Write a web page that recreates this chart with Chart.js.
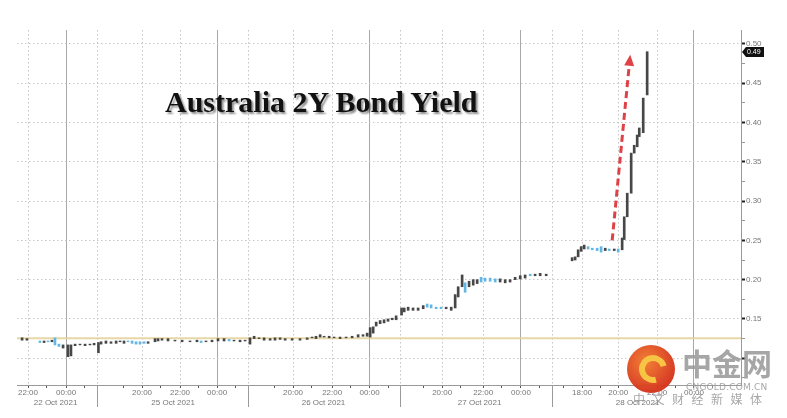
<!DOCTYPE html>
<html>
<head>
<meta charset="utf-8">
<script src="https://cdn.jsdelivr.net/npm/chart.js@4.4.0/dist/chart.umd.min.js"></script>
<style>
  html, body { margin: 0; padding: 0; background: #fff; }
  #wrap { position: relative; width: 787px; height: 418px; overflow: hidden; }
  #title {
    position: absolute; left: 165px; top: 87px;
    font: bold 30px "Liberation Serif", "Times New Roman", serif; line-height: 30px;
    color: #111; white-space: nowrap;
    text-shadow: 2px 2px 2px rgba(0,0,0,0.45);
  }
  .wm { position: absolute; white-space: nowrap; color: rgba(150,150,150,0.85); }
  #logo {
    position: absolute; left: 627px; top: 345px; width: 48px; height: 48px; border-radius: 50%;
    background: radial-gradient(circle at 40% 35%, #f27a2a, #d5321a 70%);
    opacity: 0.95;
  }
  #logo div {
    position: absolute; left: 12px; top: 10px; width: 16px; height: 16px; border-radius: 50%;
    border: 6px solid #f8c13a; border-right-color: transparent; transform: rotate(30deg);
  }
  #wm-cn { left: 682px; top: 344px; font: bold 30px "Noto Sans CJK SC", sans-serif; line-height: 36px; }
  #wm-en { left: 686px; top: 381px; font: 9px "DejaVu Sans", sans-serif; letter-spacing: 0.2px; line-height: 12px; }
  #wm-sub { left: 633px; top: 392px; font: 12px "Noto Sans CJK SC", sans-serif; letter-spacing: 7.5px; line-height: 14px; }
</style>
</head>
<body>
<div id="wrap">
  <canvas id="chart" width="787" height="418"></canvas>
  <div id="title">Australia 2Y Bond Yield</div>
  <div id="logo"><div></div></div>
  <div class="wm" id="wm-cn">中金网</div>
  <div class="wm" id="wm-en">CNGOLD.COM.CN</div>
  <div class="wm" id="wm-sub">中文财经新媒体</div>
</div>
<script>
// x axis is trading hours on a gap-free clock (sessions joined end to end)
const xMin = 0, xMax = 38.5;
const yMin = 0.066, yMax = 0.5176;

const sessionBreaks = [4.26, 12.29, 20.37, 28.46];
const dateTicks = [2.05, 8.3, 16.3, 24.6, 33.0];
const dateLabels = ['22 Oct 2021', '25 Oct 2021', '26 Oct 2021', '27 Oct 2021', '28 Oct 2021'];
const timeTicks = [0.585, 2.61, 6.65, 8.67, 10.64, 14.68, 16.76, 18.75, 22.61, 24.79, 26.8, 30.05, 31.97, 34.04, 36.0];
const timeLabels = ['22:00', '00:00', '20:00', '22:00', '00:00', '20:00', '22:00', '00:00', '20:00', '22:00', '00:00', '18:00', '20:00', '22:00', '00:00'];

const yTicks = [0.10, 0.15, 0.20, 0.25, 0.30, 0.35, 0.40, 0.45, 0.50];
const yTickLabels = ['', '0.15', '0.20', '0.25', '0.30', '0.35', '0.40', '0.45', '0.50'];

// bars: time, low, high, down (1 = blue bar)
const barTime = [
  0.27, 0.53, 1.22, 1.44, 1.65, 1.86, 2.02, 2.23, 2.45, 2.71, 2.87, 3.09, 3.35, 3.62, 3.88, 4.10,
  4.33, 4.47, 4.73, 5.00, 5.27, 5.48, 5.69, 5.90, 6.12, 6.33, 6.54, 6.76, 6.97, 7.34, 7.50, 7.71,
  8.03, 8.40, 8.78, 9.20, 9.57, 9.79, 10.05, 10.37, 10.69, 11.01, 11.28, 11.54, 11.86, 12.13,
  12.39, 12.61, 12.87, 13.14, 13.46, 13.72, 13.99, 14.26, 14.63, 15.05, 15.43, 15.69, 15.90, 16.12,
  16.33, 16.60, 16.86, 17.18, 17.50, 17.82, 18.14, 18.40, 18.62, 18.78, 18.94, 19.10, 19.31, 19.52,
  19.73, 19.95, 20.16,
  20.45, 20.59, 20.80, 21.06, 21.33, 21.60, 21.81, 22.02, 22.29, 22.55, 22.82, 23.09, 23.30, 23.46,
  23.67, 23.83, 24.04, 24.26, 24.47, 24.68, 24.89, 25.16, 25.43, 25.69, 25.96, 26.22, 26.49, 26.76,
  27.02, 27.29, 27.55, 27.82, 28.14,
  29.52, 29.68, 29.84, 30.00, 30.16, 30.37, 30.59, 30.85, 31.06, 31.28, 31.49, 31.76, 31.97,
  32.18, 32.29, 32.45, 32.66, 32.82, 32.98, 33.09, 33.30, 33.51
];
const barLow = [
  0.123, 0.123, 0.120, 0.120, 0.121, 0.121, 0.117, 0.115, 0.113, 0.102, 0.103, 0.116, 0.117, 0.116, 0.117, 0.117,
  0.107, 0.118, 0.119, 0.119, 0.119, 0.121, 0.119, 0.121, 0.119, 0.118, 0.118, 0.119, 0.119, 0.121, 0.122, 0.123,
  0.122, 0.122, 0.121, 0.121, 0.121, 0.120, 0.121, 0.121, 0.122, 0.122, 0.122, 0.122, 0.121, 0.122,
  0.118, 0.125, 0.125, 0.123, 0.123, 0.123, 0.124, 0.123, 0.123, 0.123, 0.124, 0.126, 0.125, 0.127,
  0.127, 0.126, 0.126, 0.125, 0.126, 0.126, 0.127, 0.128, 0.128, 0.127, 0.132, 0.141, 0.144, 0.145,
  0.147, 0.149, 0.149,
  0.155, 0.159, 0.161, 0.161, 0.161, 0.163, 0.165, 0.164, 0.163, 0.163, 0.163, 0.161, 0.164, 0.178,
  0.191, 0.184, 0.191, 0.193, 0.195, 0.197, 0.198, 0.198, 0.197, 0.197, 0.196, 0.197, 0.200, 0.201,
  0.202, 0.205, 0.205, 0.205, 0.205,
  0.224, 0.225, 0.229, 0.236, 0.239, 0.239, 0.238, 0.237, 0.235, 0.237, 0.237, 0.237, 0.235,
  0.238, 0.251, 0.280, 0.310, 0.361, 0.369, 0.382, 0.387, 0.435
];
const barHigh = [
  0.126, 0.125, 0.122, 0.122, 0.122, 0.123, 0.126, 0.118, 0.117, 0.117, 0.117, 0.118, 0.118, 0.118, 0.118, 0.119,
  0.120, 0.121, 0.122, 0.121, 0.122, 0.122, 0.122, 0.122, 0.122, 0.121, 0.121, 0.121, 0.121, 0.125, 0.125, 0.125,
  0.125, 0.123, 0.123, 0.122, 0.123, 0.122, 0.122, 0.123, 0.125, 0.125, 0.124, 0.123, 0.123, 0.123,
  0.126, 0.128, 0.126, 0.126, 0.125, 0.126, 0.126, 0.125, 0.125, 0.125, 0.126, 0.127, 0.128, 0.130,
  0.128, 0.128, 0.127, 0.127, 0.127, 0.128, 0.130, 0.130, 0.132, 0.139, 0.140, 0.146, 0.148, 0.149,
  0.150, 0.151, 0.154,
  0.164, 0.164, 0.165, 0.164, 0.164, 0.167, 0.169, 0.168, 0.165, 0.165, 0.165, 0.165, 0.181, 0.191,
  0.206, 0.196, 0.198, 0.200, 0.200, 0.203, 0.202, 0.202, 0.201, 0.201, 0.200, 0.200, 0.203, 0.205,
  0.206, 0.207, 0.207, 0.208, 0.207,
  0.228, 0.229, 0.238, 0.242, 0.244, 0.242, 0.240, 0.240, 0.242, 0.240, 0.239, 0.239, 0.239,
  0.253, 0.280, 0.310, 0.361, 0.371, 0.384, 0.393, 0.431, 0.490
];
const barDown = [
  0, 0, 1, 0, 1, 0, 1, 1, 0, 0, 0, 0, 0, 0, 0, 0,
  0, 0, 0, 0, 0, 0, 0, 1, 1, 1, 1, 1, 0, 0, 0, 0,
  0, 0, 0, 0, 0, 1, 0, 0, 0, 0, 1, 0, 0, 0,
  0, 0, 0, 0, 0, 0, 0, 0, 0, 0, 0, 0, 0, 0,
  0, 0, 0, 0, 0, 0, 0, 0, 0, 0, 0, 0, 0, 0,
  0, 0, 0,
  0, 0, 0, 0, 0, 0, 1, 1, 1, 1, 0, 0, 0, 0,
  0, 1, 0, 0, 0, 1, 1, 1, 1, 0, 0, 0, 0, 0,
  0, 1, 0, 0, 0,
  0, 0, 0, 0, 0, 1, 1, 1, 1, 0, 1, 0, 1,
  0, 0, 0, 0, 0, 0, 0, 0, 0
];

const refLevel = 0.1255;
const lastValue = 0.489;
const arrowFrom = [31.65, 0.250];
const arrowTo = [32.61, 0.486];

Chart.defaults.font.family = '"Liberation Sans", Arial, sans-serif';

const isMajorY = v => Math.abs(v * 20 - Math.round(v * 20)) < 1e-6;
const yAllTicks = [];
yTicks.forEach(v => { yAllTicks.push(v - 0.025, v); });

// hourly minor ticks next to the labelled ones, kept inside their session
const sessionOf = t => sessionBreaks.filter(b => b <= t).length;
const minorX = [];
timeTicks.forEach(t => {
  [t - 1, t + 1].forEach(m => {
    if (m < xMin || m > xMax) return;
    if (sessionOf(m) !== sessionOf(t)) return;
    if (timeTicks.some(o => Math.abs(o - m) < 0.4)) return;
    if (minorX.some(o => Math.abs(o - m) < 0.4)) return;
    minorX.push(m);
  });
});
const xAllTicks = [...timeTicks, ...sessionBreaks, ...minorX].sort((a, b) => a - b);
const labelFor = v => {
  const i = timeTicks.indexOf(v);
  return i >= 0 ? timeLabels[i] : '';
};
const isMidnight = v => labelFor(v) === '00:00';
const isLabelled = v => timeTicks.includes(v) || sessionBreaks.includes(v);

const bars = barTime.map((t, i) => ({ x: t, y: [barLow[i], barHigh[i]] }));
const barColors = barDown.map(d => d ? '#62b6e3' : '#474747');

const overlayPlugin = {
  id: 'overlay',
  afterDatasetsDraw(chart) {
    const { ctx, scales: { x, y } } = chart;
    const x0 = x.getPixelForValue(arrowFrom[0]), y0 = y.getPixelForValue(arrowFrom[1]);
    const x1 = x.getPixelForValue(arrowTo[0]), y1 = y.getPixelForValue(arrowTo[1]);
    const ang = Math.atan2(y1 - y0, x1 - x0);
    const headLen = 11, headW = 5;
    const bx = x1 - headLen * Math.cos(ang), by = y1 - headLen * Math.sin(ang);
    ctx.save();
    ctx.strokeStyle = 'rgba(220,45,50,0.9)';
    ctx.fillStyle = 'rgba(220,45,50,0.9)';
    ctx.lineWidth = 3;
    ctx.setLineDash([7, 4]);
    ctx.beginPath();
    ctx.moveTo(x0, y0);
    ctx.lineTo(bx, by);
    ctx.stroke();
    ctx.setLineDash([]);
    ctx.beginPath();
    ctx.moveTo(x1, y1);
    ctx.lineTo(bx + headW * Math.sin(ang), by - headW * Math.cos(ang));
    ctx.lineTo(bx - headW * Math.sin(ang), by + headW * Math.cos(ang));
    ctx.closePath();
    ctx.fill();
    ctx.restore();
  },
  afterDraw(chart) {
    const { ctx, chartArea, scales: { x, y } } = chart;
    ctx.save();
    // session separators run down through the date row
    ctx.strokeStyle = '#9a9a9a';
    ctx.lineWidth = 1;
    sessionBreaks.forEach(b => {
      const px = Math.round(x.getPixelForValue(b)) + 0.5;
      ctx.beginPath();
      ctx.moveTo(px, chartArea.bottom);
      ctx.lineTo(px, chartArea.bottom + 22);
      ctx.stroke();
    });
    // last price tag
    const ty = Math.round(y.getPixelForValue(lastValue));
    const lx = chartArea.right + 1;
    ctx.fillStyle = '#111';
    ctx.beginPath();
    ctx.moveTo(lx, ty);
    ctx.lineTo(lx + 4, ty - 5);
    ctx.lineTo(lx + 22, ty - 5);
    ctx.lineTo(lx + 22, ty + 5);
    ctx.lineTo(lx + 4, ty + 5);
    ctx.closePath();
    ctx.fill();
    ctx.fillStyle = '#fff';
    ctx.font = '7px "Liberation Sans", Arial, sans-serif';
    ctx.textBaseline = 'middle';
    ctx.fillText(lastValue.toFixed(2), lx + 5, ty + 0.5);
    ctx.restore();
  }
};

new Chart(document.getElementById('chart').getContext('2d'), {
  type: 'bar',
  data: {
    datasets: [
      {
        type: 'line',
        data: [{ x: xMin, y: refLevel }, { x: xMax, y: refLevel }],
        borderColor: 'rgba(228,208,150,0.85)',
        borderWidth: 2,
        pointRadius: 0,
        order: 2
      },
      {
        data: bars,
        backgroundColor: barColors,
        barThickness: 2,
        order: 1
      }
    ]
  },
  options: {
    responsive: false,
    animation: false,
    devicePixelRatio: 1,
    layout: { padding: { left: 17, top: 30, right: 0, bottom: 0 } },
    plugins: { legend: { display: false }, tooltip: { enabled: false } },
    scales: {
      x: {
        type: 'linear',
        min: xMin,
        max: xMax,
        offset: false,
        weight: 0,
        afterBuildTicks: s => { s.ticks = xAllTicks.map(v => ({ value: v })); },
        afterFit: s => { s.height = 13; },
        grid: {
          offset: false,
          color: c => !isLabelled(c.tick.value) ? 'transparent' : (isMidnight(c.tick.value) ? '#a8a8a8' : '#c4c4c4'),
          tickColor: '#555',
          tickLength: 3,
          tickWidth: 1,
          tickBorderDash: []
        },
        border: {
          color: '#9a9a9a',
          dash: c => (c.tick && isMidnight(c.tick.value)) ? [] : [1.5, 2.5]
        },
        ticks: {
          autoSkip: false,
          maxRotation: 0,
          minRotation: 0,
          padding: 0,
          color: '#777',
          font: { size: 8 },
          callback: v => labelFor(v)
        }
      },
      x2: {
        type: 'linear',
        position: 'bottom',
        min: xMin,
        max: xMax,
        offset: false,
        weight: 1,
        afterBuildTicks: s => { s.ticks = dateTicks.map(v => ({ value: v })); },
        afterFit: s => { s.height = 20; },
        grid: { display: false, drawTicks: false },
        border: { display: false },
        ticks: {
          autoSkip: false,
          maxRotation: 0,
          minRotation: 0,
          padding: 0,
          color: '#777',
          font: { size: 8 },
          callback: (v, i) => dateLabels[i]
        }
      },
      y: {
        position: 'right',
        min: yMin,
        max: yMax,
        afterBuildTicks: s => { s.ticks = yAllTicks.map(v => ({ value: v })); },
        afterFit: s => { s.width = 46; },
        grid: {
          color: c => isMajorY(c.tick.value) ? '#c8c8c8' : 'transparent',
          tickColor: c => isMajorY(c.tick.value) ? '#222' : '#999',
          tickWidth: c => isMajorY(c.tick.value) ? 2 : 1,
          tickLength: 4,
          tickBorderDash: []
        },
        border: { color: '#9a9a9a', dash: [1.5, 2.5] },
        ticks: {
          autoSkip: false,
          padding: 1,
          color: '#777',
          font: { size: 8 },
          callback: v => {
            const i = yTicks.findIndex(t => Math.abs(t - v) < 1e-6);
            return i >= 0 ? yTickLabels[i] : '';
          }
        }
      }
    }
  },
  plugins: [overlayPlugin]
});
</script>
</body>
</html>
